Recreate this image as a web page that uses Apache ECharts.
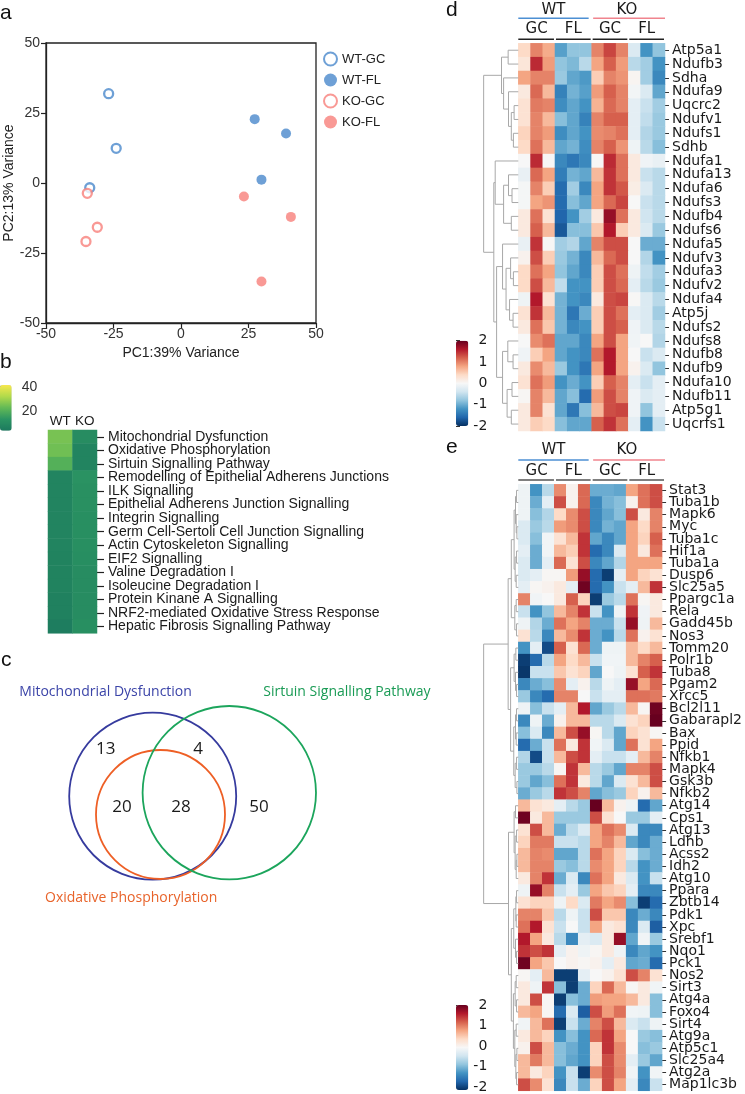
<!DOCTYPE html>
<html><head><meta charset="utf-8">
<script src="https://cdn.jsdelivr.net/npm/echarts@6/dist/echarts.min.js"></script>
<style>html,body{margin:0;padding:0;background:#fff}#c{width:745px;height:1094px}</style>
</head><body><div id="c"></div>
<script>
// ================= DATA =================
// Panel a: PCA
const pcaWTGC = [[-26.8, 31.9], [-24.0, 12.4], [-33.8, -1.7]];
const pcaWTFL = [[27.3, 22.8], [38.9, 17.7], [29.8, 1.2]];
const pcaKOGC = [[-34.7, -3.7], [-31.0, -15.8], [-35.2, -20.9]];
const pcaKOFL = [[23.3, -4.8], [40.7, -12.1], [29.8, -35.2]];
const pcaSeriesNames = ['WT-GC', 'WT-FL', 'KO-GC', 'KO-FL'];

// Panel b: pathway enrichment
const pathways = ['Mitochondrial Dysfunction', 'Oxidative Phosphorylation', 'Sirtuin Signalling Pathway',
  'Remodelling of Epithelial Adherens Junctions', 'ILK Signalling', 'Epithelial Adherens Junction Signalling',
  'Integrin Signalling', 'Germ Cell-Sertoli Cell Junction Signalling', 'Actin Cytoskeleton Signalling',
  'EIF2 Signalling', 'Valine Degradation I', 'Isoleucine Degradation I', 'Protein Kinane A Signalling',
  'NRF2-mediated Oxidative Stress Response', 'Hepatic Fibrosis Signalling Pathway'];
const pathwayGroups = ['WT', 'KO'];
const pathwayWT = [25, 24, 20, 7, 7, 7, 7, 7, 7, 6.5, 6.5, 6.5, 6, 6, 4.5];
const pathwayKO = [10, 7, 7, 12, 11.5, 11.5, 11, 11, 11, 10.5, 10, 10, 10, 10, 11];
const pathwayScaleTicks = [20, 40];

// Panel c: Venn
const vennSetNames = ['Mitochondrial Dysfunction', 'Oxidative Phosphorylation', 'Sirtuin Signalling Pathway'];
const vennRegionCounts = [13, 4, 20, 28, 50];

// Panels d/e: heatmaps
const samples = ['WT-GC1','WT-GC2','WT-GC3','WT-FL1','WT-FL2','WT-FL3','KO-GC1','KO-GC2','KO-GC3','KO-FL1','KO-FL2','KO-FL3'];
const genotypeLabels = ['WT', 'KO'];
const tissueLabels = ['GC', 'FL', 'GC', 'FL'];
const zTicks = [-2, -1, 0, 1, 2];

const dGenes = ['Atp5a1','Ndufb3','Sdha','Ndufa9','Uqcrc2','Ndufv1','Ndufs1','Sdhb','Ndufa1','Ndufa13','Ndufa6','Ndufs3','Ndufb4','Ndufs6','Ndufa5','Ndufv3','Ndufa3','Ndufv2','Ndufa4','Atp5j','Ndufs2','Ndufs8','Ndufb8','Ndufb9','Ndufa10','Ndufb11','Atp5g1','Uqcrfs1'];
const dValues = [
  [0.4,1.0,0.75,-1.1,-0.8,-0.8,1.0,1.35,1.0,-0.3,-1.2,-0.8],
  [0.25,1.5,0.85,-0.8,-0.9,-0.55,0.8,1.2,0.85,-0.55,-0.7,-1.2],
  [0.8,1.0,1.0,-0.75,-1.05,-1.15,0.5,1.0,0.9,0.05,-0.7,-1.3],
  [0.2,1.15,0.65,-1.35,-0.95,-1.1,0.85,1.2,1.0,-0.05,-0.3,-1.05],
  [0.3,1.05,1.0,-1.25,-1.05,-1.2,0.7,1.15,1.0,-0.2,-0.45,-0.7],
  [0.3,1.0,0.65,-0.85,-1.05,-1.35,1.0,1.2,1.2,-0.2,-0.5,-0.75],
  [0.45,1.0,0.85,-1.25,-1.05,-1.2,0.95,1.0,1.1,-0.2,-0.6,-0.75],
  [0.4,1.1,0.65,-1.05,-0.95,-1.25,1.0,1.2,0.9,-0.1,-0.55,-0.85],
  [0.0,1.5,0.02,-1.3,-1.45,-1.3,0.02,1.5,1.1,0.2,-0.08,-0.15],
  [-0.15,1.15,0.8,-1.4,-0.95,-1.05,0.65,1.45,1.1,0.2,-0.45,-0.55],
  [-0.03,1.0,0.5,-1.55,-0.7,-1.3,0.8,1.45,1.25,0.15,-0.3,-0.55],
  [-0.03,0.8,0.9,-1.55,-0.85,-1.05,0.8,1.15,1.35,0.0,-0.45,-0.55],
  [0.2,1.1,0.3,-1.6,-1.2,-0.7,0.2,1.75,1.1,0.2,-0.4,-0.55],
  [0.2,1.2,0.65,-1.7,-0.85,-0.85,0.55,1.6,0.5,0.2,-0.3,-0.75],
  [-0.15,1.45,0.02,-0.7,-0.6,-1.05,1.0,1.3,1.3,0.0,-1.0,-1.0],
  [0.08,1.3,0.5,-0.75,-0.95,-1.3,0.65,1.15,1.3,0.0,-0.6,-1.2],
  [0.4,1.1,0.8,-0.8,-1.05,-1.3,0.5,1.3,1.1,-0.1,-0.5,-0.7],
  [0.4,1.3,0.65,-0.5,-1.2,-1.2,0.5,1.3,1.15,-0.2,-0.55,-0.75],
  [-0.1,1.6,0.3,-0.95,-1.2,-1.3,0.2,1.3,1.35,0.02,-0.3,-0.55],
  [0.3,1.45,0.65,-0.95,-1.45,-1.0,0.5,1.3,1.1,-0.2,-0.3,-0.7],
  [0.2,1.1,0.55,-0.95,-1.3,-1.2,0.5,1.3,1.2,-0.08,-0.3,-0.55],
  [0.0,0.95,1.1,-1.05,-1.05,-1.3,0.8,1.3,0.8,-0.07,0.0,-0.6],
  [-0.08,0.5,0.8,-1.05,-1.2,-1.3,1.1,1.6,0.8,0.0,-0.45,-0.3],
  [0.2,0.95,0.65,-0.75,-1.2,-1.45,0.8,1.6,0.8,0.08,-0.3,-0.8],
  [0.3,1.1,0.85,-1.2,-1.0,-1.2,0.5,1.2,1.0,-0.2,-0.45,-0.2],
  [0.03,1.0,0.65,-1.05,-0.85,-1.55,0.85,1.3,1.0,-0.08,-0.3,-0.2],
  [0.2,1.0,0.3,-1.05,-1.45,-0.85,0.65,1.3,1.35,-0.08,-0.8,-0.2],
  [0.2,0.5,0.4,-0.85,-1.05,-1.05,1.2,1.45,1.1,-0.2,-1.2,-0.45]
];
// dendrogram: [height, left, right]; numbers are row indices
const dTree = [0.99,
  [0.48, [0.29, 0, 1], [0.42, 2, [0.28, 3, [0.2, [0.12, 4, 5], [0.14, 6, 7]]]]],
  [0.7,
    [0.66, 8, [0.42, [0.28, 9, [0.18, 10, 11]], [0.2, 12, 13]]],
    [0.62, [0.45, 14, [0.35, [0.22, 15, [0.14, 16, 17]], [0.25, 18, [0.15, 19, 20]]]],
           [0.45, [0.3, 21, [0.15, 22, 23]], [0.32, [0.18, 24, 25], [0.2, 26, 27]]]]]];

const eGenes = ['Stat3','Tuba1b','Mapk6','Myc','Tuba1c','Hif1a','Tuba1a','Dusp6','Slc25a5','Ppargc1a','Rela','Gadd45b','Nos3','Tomm20','Polr1b','Tuba8','Pgam2','Xrcc5','Bcl2l11','Gabarapl2','Bax','Ppid','Nfkb1','Mapk4','Gsk3b','Nfkb2','Atg14','Cps1','Atg13','Ldhb','Acss2','Idh2','Atg10','Ppara','Zbtb14','Pdk1','Xpc','Srebf1','Nqo1','Pck1','Nos2','Sirt3','Atg4a','Foxo4','Sirt4','Atg9a','Atp5c1','Slc25a4','Atg2a','Map1lc3b'];
const eValues = [
  [-0.1,-1.2,-0.55,0.95,0.08,1.15,-1.0,-1.0,-1.05,0.8,1.1,1.3],
  [-0.1,-1.0,-0.2,1.3,0.08,1.15,-1.3,-0.95,-0.85,0.08,1.1,1.3],
  [-0.1,-0.85,-0.6,0.4,0.95,1.3,-1.3,-1.05,-0.85,1.3,0.2,1.0],
  [-0.3,-0.75,-0.55,0.85,0.95,1.3,-1.3,-0.95,-1.05,0.8,0.4,1.0],
  [-0.3,-0.85,-0.07,0.3,0.65,1.45,-1.05,-1.3,-1.05,0.8,0.45,1.2],
  [-0.2,-1.0,-0.07,0.65,0.5,1.45,-1.55,-1.3,-0.3,0.8,0.2,1.1],
  [-0.3,-1.0,-0.2,1.15,0.3,1.3,-1.3,-1.05,-0.6,0.8,0.8,0.8],
  [-0.3,-0.2,0.03,0.03,0.85,1.75,-1.55,-1.9,-0.2,0.8,0.45,0.3],
  [-0.2,0.03,0.08,0.2,-0.2,1.95,-1.55,-1.2,-0.45,-0.2,0.65,1.45],
  [1.0,-0.07,0.0,0.2,1.2,0.45,-1.9,-0.75,-0.55,1.1,0.03,0.2],
  [-0.45,-1.2,-0.8,0.65,1.0,1.45,-0.45,-1.2,-0.1,1.45,-0.08,0.2],
  [-0.1,-0.6,-1.0,1.1,0.8,1.0,-1.0,-1.0,-0.45,1.75,-0.1,0.65],
  [0.3,-0.55,-1.3,0.65,0.95,1.45,-1.0,-1.2,-0.55,1.1,0.08,0.3],
  [-1.2,-0.2,-1.8,1.2,0.3,1.15,-1.0,-0.1,-0.1,0.65,0.4,0.65],
  [-1.9,-1.55,-0.55,0.8,0.4,0.65,-0.45,-0.07,-0.07,0.65,1.0,1.2],
  [-1.95,-0.45,-0.45,0.55,0.3,0.45,-1.05,0.0,-0.1,0.3,1.2,1.45],
  [-1.3,-1.0,-0.85,0.95,-0.2,0.08,-0.55,-0.1,-0.2,1.75,0.8,1.15],
  [-0.75,-1.3,-1.55,1.0,1.0,0.0,-0.45,-0.2,-0.2,1.1,1.1,1.05],
  [-0.1,-0.85,-0.45,-0.2,0.65,1.6,-1.05,-0.75,-0.55,0.65,0.03,1.95],
  [-1.3,-0.1,-1.0,0.08,0.65,0.65,-0.55,-0.55,-0.3,0.3,0.45,2.0],
  [-0.85,-0.3,-1.3,0.65,1.3,1.75,0.03,-0.55,-1.05,0.45,0.3,0.03],
  [-1.55,-1.0,-0.45,1.1,0.2,1.45,-0.07,-0.3,-1.05,1.1,0.3,0.8],
  [-0.6,-1.8,-0.45,0.65,1.3,1.45,-0.2,-0.45,-0.45,-0.2,0.65,1.0],
  [-0.75,-0.75,-0.55,0.03,1.45,0.65,-0.55,-0.75,-1.05,1.0,1.0,1.3],
  [-0.75,-1.05,-0.85,1.1,1.45,0.2,-0.55,-1.05,-0.3,0.3,0.65,1.3],
  [-1.0,-0.75,-0.55,1.45,1.3,1.0,-1.05,-0.85,-0.75,0.45,0.08,0.65],
  [0.65,0.3,0.2,-0.2,-0.55,-0.75,2.0,0.65,0.08,-0.1,-1.55,-1.05],
  [1.95,0.2,0.65,-0.75,-0.75,-0.75,1.3,0.3,0.0,-0.75,-0.75,-0.2],
  [0.3,1.3,0.65,-1.0,-0.55,-0.3,0.8,1.1,0.95,-0.3,-1.3,-1.3],
  [0.45,1.05,1.05,-0.45,-0.45,-0.55,0.8,1.0,0.65,-1.05,-1.3,-1.0],
  [0.65,1.0,0.95,-1.05,-1.05,-0.55,1.1,0.8,0.45,-0.3,-0.85,-1.0],
  [0.65,1.0,1.0,-0.75,-0.85,-0.55,0.95,0.8,0.45,-0.55,-1.2,-1.0],
  [0.2,1.0,1.45,-1.0,-0.3,-1.3,1.1,0.8,0.2,-0.3,-1.2,-0.45],
  [-0.1,1.75,1.0,-0.45,-0.2,-0.75,0.8,0.55,0.45,-0.2,-1.3,-1.3],
  [0.3,0.45,0.45,-0.1,0.4,-0.3,1.05,0.8,0.95,-0.85,-1.9,-1.55],
  [1.0,1.0,0.55,-0.55,-0.1,-0.45,1.3,0.55,0.55,-1.3,-1.0,-1.3],
  [1.1,1.6,0.3,-0.45,0.0,-0.45,0.8,0.2,0.3,-1.3,-0.3,-1.65],
  [1.6,0.8,0.2,-0.55,-1.3,-0.2,-0.3,0.2,1.75,-1.05,-0.07,-0.75],
  [1.45,1.3,1.45,-0.2,0.08,-0.1,0.03,0.2,-0.1,-1.3,-1.05,-1.2],
  [1.95,0.8,0.55,0.0,0.08,0.03,0.08,-0.2,0.2,-1.05,-1.0,-1.55],
  [0.03,-0.2,0.65,-1.9,-1.9,-0.2,0.0,0.08,0.3,1.3,1.0,0.3],
  [0.2,-0.1,1.45,-0.85,-1.9,-1.0,0.45,1.15,0.65,0.03,0.2,-0.07],
  [0.2,1.3,0.03,-1.9,-0.85,-1.0,0.85,0.8,0.8,0.65,0.2,-0.85],
  [0.65,0.8,0.03,-1.55,-0.3,-1.65,1.3,0.85,1.1,-0.07,-0.1,-0.85],
  [-0.07,0.65,1.1,-1.9,-0.45,-1.0,1.0,1.3,0.65,-0.3,-0.45,-0.1],
  [0.2,0.65,0.45,-1.2,-0.85,-1.2,1.15,1.45,0.8,0.0,-0.75,-0.85],
  [0.08,1.3,0.65,-0.85,-1.0,-1.2,0.45,1.45,0.95,0.0,-0.85,-0.75],
  [0.65,1.05,0.65,-0.85,-1.05,-1.2,0.45,1.3,0.95,-0.2,-0.75,-1.05],
  [0.65,0.2,0.45,-1.2,-0.45,-1.9,0.95,1.3,1.0,-0.07,-1.2,-0.07],
  [1.3,0.95,0.3,-1.3,-0.45,-1.0,0.45,1.3,0.8,-0.2,-1.3,-0.45]
];
const eTree = [0.99,
  [0.29,
    [0.2,
      [0.12, [0.08, [0.05, 0, 1], [0.06, 2, [0.04, 3, 4]]], [0.09, [0.05, 5, 6], [0.06, 7, 8]]],
      [0.1, [0.06, 9, 10], [0.05, 11, 12]]],
    [0.22,
      [0.12, [0.07, 13, 14], [0.08, 15, [0.05, 16, 17]]],
      [0.13, [0.08, [0.05, 18, 19], [0.06, 20, 21]], [0.09, [0.05, 22, 23], [0.04, 24, 25]]]]],
  [0.28,
    [0.12, [0.08, 26, 27], [0.09, [0.05, 28, 29], [0.06, [0.04, 30, 31], 32]]],
    [0.2,
      [0.13, [0.07, [0.05, 33, 34], [0.06, 35, 36]], [0.08, 37, [0.05, 38, 39]]],
      [0.14, [0.09, [0.06, 40, 41], [0.05, 42, 43]], [0.1, [0.06, 44, 45], [0.07, [0.04, 46, 47], [0.05, 48, 49]]]]]]];

// ================= LAYOUT & STYLE =================
const L = {
  pca: {left: 46, top: 43, width: 270, height: 280},
  b: {left: 48, top: 430, width: 49, height: 203.3},
  bBar: {left: 0, top: 385, width: 11.7, height: 45.7},
  d: {left: 518.3, top: 43.3, width: 146.7, height: 387.7},
  dDen: {left: 483.3, top: 43.3, width: 35, height: 387.7},
  dBar: {left: 456, top: 340.7, width: 12.3, height: 85.3},
  e: {left: 518.3, top: 484.3, width: 146.7, height: 606.5},
  eDen: {left: 483.3, top: 484.3, width: 35, height: 606.5},
  eBar: {left: 456, top: 1005, width: 12.3, height: 85},
  venn: {left: 0, top: 640, width: 400, height: 280}
};
const vennLayout = {
  circles: [{cx: 15.27, cy: 15.62, r: 8.35}, {cx: 16.05, cy: 17.45, r: 6.45}, {cx: 22.93, cy: 15.27, r: 8.67}],
  colors: ['#363b9e', '#ee5f25', '#1ca55c'],
  textColors: ['#3b44a8', '#e8632a', '#1a9b55'],
  titles: [[1.93, 5.2], [4.5, 25.8], [26.33, 5.2]],
  counts: [[10.58, 10.93], [19.8, 10.93], [12.2, 16.67], [18.1, 16.67], [25.9, 16.67]]
};
const BLUE = '#4a88cc', RED = '#f77f7b';
const RDBU = ['#053061','#2166ac','#4393c3','#92c5de','#d1e5f0','#f7f7f7','#fddbc7','#f4a582','#d6604d','#b2182b','#67001f'];
const GREENS = ['#1c7a5e','#2b9462','#62b956','#b1da4b','#f7e84d'];
const HEL = 'Liberation Sans', DJV = 'DejaVu Sans';

// ================= HELPERS =================
function cells(values) {
  const out = [];
  values.forEach((row, r) => row.forEach((v, c) => out.push([c, r, v])));
  return out;
}
function treeLines(tree) {
  const out = [];
  (function walk(node) {
    if (typeof node === 'number') return {y: node, h: 0};
    const a = walk(node[1]), b = walk(node[2]);
    out.push({coords: [[a.h, a.y], [node[0], a.y], [node[0], b.y], [b.h, b.y]]});
    return {y: (a.y + b.y) / 2, h: node[0]};
  })(tree);
  return out;
}
const grids = [], xAxes = [], yAxes = [];
function addGrid(g) { grids.push(Object.assign({containLabel: false}, g)); return grids.length - 1; }
const hidden = {show: false};

// grids
const gPca = addGrid(Object.assign({show: true, borderColor: '#222', borderWidth: 1.3}, L.pca));
const gB = addGrid(L.b);
const gD = addGrid(L.d);
const gDDen = addGrid(L.dDen);
const gE = addGrid(L.e);
const gEDen = addGrid(L.eDen);
const gVenn = addGrid(L.venn);
const gBBar = addGrid(L.bBar);
const gDBar = addGrid(L.dBar);
const gEBar = addGrid(L.eBar);

// PCA axes
const pcaAxisCommon = {
  type: 'value', min: -50, max: 50, interval: 25,
  axisLine: {show: true, onZero: false, lineStyle: {color: '#222', width: 1.3}},
  axisTick: {show: true, length: 5, lineStyle: {color: '#222', width: 1.2}},
  splitLine: {show: false},
  axisLabel: {fontFamily: HEL, fontSize: 14, color: '#333'},
  nameLocation: 'middle',
  nameTextStyle: {fontFamily: HEL, fontSize: 14, color: '#222'}
};
xAxes.push(Object.assign({}, pcaAxisCommon, {gridIndex: gPca, name: 'PC1:39% Variance', nameGap: 23,
  axisLabel: Object.assign({}, pcaAxisCommon.axisLabel, {margin: 4})}));
yAxes.push(Object.assign({}, pcaAxisCommon, {gridIndex: gPca, name: 'PC2:13% Variance', nameGap: 30,
  axisLabel: Object.assign({}, pcaAxisCommon.axisLabel, {margin: 6})}));

// b axes
xAxes.push({gridIndex: gB, type: 'category', data: pathwayGroups, position: 'top',
  axisLine: hidden, axisTick: hidden, splitLine: hidden,
  axisLabel: {interval: 0, margin: 2, fontFamily: HEL, fontSize: 13.5, color: '#1a1a1a'}});
yAxes.push({gridIndex: gB, type: 'category', data: pathways, inverse: true, position: 'right',
  axisLine: hidden, splitLine: hidden,
  axisTick: {show: true, length: 7, alignWithLabel: true, lineStyle: {color: '#222', width: 1.2}},
  axisLabel: {interval: 0, margin: 11, fontFamily: HEL, fontSize: 14, color: '#1a1a1a'}});

// heatmap axes (d, e)
function heatAxes(g, genes) {
  xAxes.push({gridIndex: g, type: 'category', data: samples, show: false});
  yAxes.push({gridIndex: g, type: 'category', data: genes, inverse: true, position: 'right',
    axisLine: hidden, splitLine: hidden,
    axisTick: {show: true, length: 4, alignWithLabel: true, lineStyle: {color: '#333', width: 1}},
    axisLabel: {interval: 0, margin: 7, fontFamily: DJV, fontSize: 14, color: '#1a1a1a'}});
}
function denAxes(g, n) {
  xAxes.push({gridIndex: g, type: 'value', min: 0, max: 1, inverse: true, show: false});
  yAxes.push({gridIndex: g, type: 'value', min: -0.5, max: n - 0.5, inverse: true, show: false});
}
heatAxes(gD, dGenes);
denAxes(gDDen, dGenes.length);
heatAxes(gE, eGenes);
denAxes(gEDen, eGenes.length);

// venn axes
xAxes.push({gridIndex: gVenn, type: 'value', min: 0, max: 40, show: false});
yAxes.push({gridIndex: gVenn, type: 'value', min: 0, max: 28, inverse: true, show: false});

// colorbar axes
xAxes.push({gridIndex: gBBar, type: 'value', show: false});
yAxes.push({gridIndex: gBBar, type: 'value', min: 3.3, max: 41.4, position: 'right',
  axisLine: hidden, splitLine: hidden,
  axisTick: {show: true, length: 5, customValues: pathwayScaleTicks, lineStyle: {color: '#333', width: 1.2}},
  axisLabel: {customValues: pathwayScaleTicks, margin: 10, fontFamily: HEL, fontSize: 14, color: '#333'}});
function zBarAxes(g) {
  xAxes.push({gridIndex: g, type: 'value', show: false});
  yAxes.push({gridIndex: g, type: 'value', min: zTicks[0], max: zTicks[zTicks.length - 1], interval: 1, position: 'right',
    axisLine: hidden, splitLine: hidden,
    axisTick: {show: true, length: 4, lineStyle: {color: '#333', width: 1}},
    axisLabel: {margin: 19, align: 'right', fontFamily: DJV, fontSize: 14, color: '#1a1a1a'}});
}
zBarAxes(gDBar);
zBarAxes(gEBar);

// ================= SERIES =================
const series = [];
const pcaData = [pcaWTGC, pcaWTFL, pcaKOGC, pcaKOFL];
pcaData.forEach((data, i) => {
  const color = i < 2 ? BLUE : RED;
  const hollow = i % 2 === 0;
  series.push({
    type: 'scatter', name: pcaSeriesNames[i], xAxisIndex: gPca, yAxisIndex: gPca, data,
    symbol: 'circle', symbolSize: hollow ? 9 : 10,
    itemStyle: hollow ? {color: '#fff', borderColor: color, borderWidth: 2.3} : {color: color, borderWidth: 0}
  });
});
const bData = [];
pathways.forEach((p, r) => { bData.push([0, r, pathwayWT[r]]); bData.push([1, r, pathwayKO[r]]); });
const sB = series.length;
series.push({type: 'heatmap', xAxisIndex: 1, yAxisIndex: 1, data: bData, emphasis: {disabled: true}});
const sD = series.length;
series.push({type: 'heatmap', xAxisIndex: 2, yAxisIndex: 2, data: cells(dValues), emphasis: {disabled: true}});
series.push({type: 'lines', coordinateSystem: 'cartesian2d', xAxisIndex: 3, yAxisIndex: 3, polyline: true, silent: true,
  lineStyle: {color: '#a8a8a8', width: 1, opacity: 1}, data: treeLines(dTree)});
const sE = series.length;
series.push({type: 'heatmap', xAxisIndex: 4, yAxisIndex: 4, data: cells(eValues), emphasis: {disabled: true}});
series.push({type: 'lines', coordinateSystem: 'cartesian2d', xAxisIndex: 5, yAxisIndex: 5, polyline: true, silent: true,
  lineStyle: {color: '#a8a8a8', width: 1, opacity: 1}, data: treeLines(eTree)});

// Venn circles
series.push({type: 'custom', coordinateSystem: 'cartesian2d', xAxisIndex: 6, yAxisIndex: 6, silent: true,
  data: vennLayout.circles.map(c => [c.cx, c.cy]),
  renderItem: (params, api) => {
    const c = vennLayout.circles[params.dataIndex];
    const p = api.coord([c.cx, c.cy]);
    const r = api.size([c.r, 0])[0];
    return {type: 'circle', shape: {cx: p[0], cy: p[1], r: r},
      style: {fill: 'none', stroke: vennLayout.colors[params.dataIndex], lineWidth: 1.8}};
  }});
// Venn titles
series.push({type: 'custom', coordinateSystem: 'cartesian2d', xAxisIndex: 6, yAxisIndex: 6, silent: true,
  data: vennLayout.titles, clip: false,
  renderItem: (params, api) => {
    const t = vennLayout.titles[params.dataIndex];
    const p = api.coord(t);
    return {type: 'text', x: p[0], y: p[1],
      style: {text: vennSetNames[params.dataIndex], fill: vennLayout.textColors[params.dataIndex],
        font: '14px "Open Sans"', align: 'left', verticalAlign: 'middle', textAlign: 'left', textVerticalAlign: 'middle'}};
  }});
// Venn counts
series.push({type: 'custom', coordinateSystem: 'cartesian2d', xAxisIndex: 6, yAxisIndex: 6, silent: true,
  data: vennLayout.counts, clip: false,
  renderItem: (params, api) => {
    const p = api.coord(vennLayout.counts[params.dataIndex]);
    return {type: 'text', x: p[0], y: p[1],
      style: {text: String(vennRegionCounts[params.dataIndex]), fill: '#1a1a1a',
        font: '17px "Open Sans"', align: 'center', verticalAlign: 'middle', textAlign: 'center', textVerticalAlign: 'middle'}};
  }});

// ================= GRAPHICS (labels, headers) =================
const graphics = [];
function gText(text, x, y, font, fill, align) {
  graphics.push({type: 'text', x, y, silent: true,
    style: {text, font, fill: fill || '#111', align: align || 'left', verticalAlign: 'middle',
      textAlign: align || 'left', textVerticalAlign: 'middle'}});
}
function gLine(x1, y1, x2, y2, stroke, w) {
  graphics.push({type: 'line', silent: true, shape: {x1, y1, x2, y2}, style: {stroke, lineWidth: w || 1.5}});
}
const letterFont = '21px "Liberation Sans"';
gText('a', 0, 13.5, letterFont);
gText('b', 0, 362, letterFont);
gText('c', 1, 660, letterFont);
gText('d', 446, 10.5, letterFont);
gText('e', 446, 447, letterFont);

function header(box, yTop, yTopLine, ySub, ySubLine, subLineColor) {
  const colW = box.width / samples.length;
  const gw = samples.length / genotypeLabels.length;
  genotypeLabels.forEach((g, i) => {
    const x0 = box.left + i * gw * colW, x1 = x0 + gw * colW;
    gText(g, (x0 + x1) / 2 - 1.5, yTop, '15px "DejaVu Sans"', '#1a1a1a', 'center');
    gLine(x0 + (i ? 1.5 : 0), yTopLine, x1 - (i ? 0 : 3), yTopLine, i === 0 ? '#4d8fd3' : '#f0848e', 1.5);
  });
  const tw = samples.length / tissueLabels.length;
  tissueLabels.forEach((t, i) => {
    const x0 = box.left + i * tw * colW, x1 = x0 + tw * colW;
    gText(t, (x0 + x1) / 2, ySub, '15px "DejaVu Sans"', '#1a1a1a', 'center');
    gLine(x0 + (i ? 1 : 0), ySubLine, x1 - 1, ySubLine, subLineColor, 1.5);
  });
}
header(L.d, 10, 18.3, 29.3, 39.3, '#222');
header(L.e, 450, 460, 470.7, 480, '#555');

// ================= OPTION =================
const option = {
  animation: false,
  backgroundColor: '#fff',
  grid: grids,
  xAxis: xAxes,
  yAxis: yAxes,
  legend: {
    data: pcaSeriesNames, orient: 'vertical', left: 323, top: 51.5, padding: 0,
    itemWidth: 13, itemHeight: 13, itemGap: 7, icon: 'circle',
    textStyle: {fontFamily: HEL, fontSize: 13, color: '#222'}
  },
  visualMap: [
    {type: 'continuous', seriesIndex: sB, min: 3.3, max: 41.4, left: L.bBar.left, top: L.bBar.top,
      itemWidth: L.bBar.width, itemHeight: L.bBar.height, padding: 0, calculable: false, hoverLink: false,
      inRange: {color: GREENS}},
    {type: 'continuous', seriesIndex: sD, min: -2, max: 2, left: L.dBar.left, top: L.dBar.top,
      itemWidth: L.dBar.width, itemHeight: L.dBar.height, padding: 0, calculable: false, hoverLink: false,
      inRange: {color: RDBU}},
    {type: 'continuous', seriesIndex: sE, min: -2, max: 2, left: L.eBar.left, top: L.eBar.top,
      itemWidth: L.eBar.width, itemHeight: L.eBar.height, padding: 0, calculable: false, hoverLink: false,
      inRange: {color: RDBU}}
  ],
  graphic: {elements: graphics},
  series
};
const chart = echarts.init(document.getElementById('c'), null, {width: 745, height: 1094});
chart.setOption(option);
</script>
</body></html>
